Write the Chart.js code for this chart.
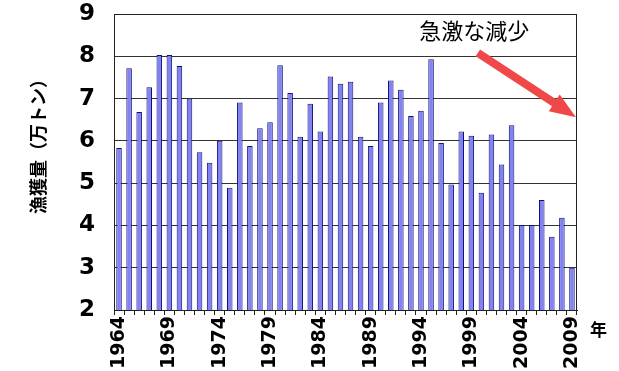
<!DOCTYPE html>
<html>
<head>
<meta charset="utf-8">
<script src="https://cdn.jsdelivr.net/npm/chart.js@4"></script>
<style>
  html, body { margin: 0; padding: 0; background: #fff; }
  #wrap { width: 619px; height: 371px; }
</style>
</head>
<body>
<div id="wrap"><canvas id="c" width="619" height="371"></canvas></div>
<script>
// 年別の漁獲量（万トン）
const years = [
  '1964','1965','1966','1967','1968','1969','1970','1971','1972','1973',
  '1974','1975','1976','1977','1978','1979','1980','1981','1982','1983',
  '1984','1985','1986','1987','1988','1989','1990','1991','1992','1993',
  '1994','1995','1996','1997','1998','1999','2000','2001','2002','2003',
  '2004','2005','2006','2007','2008','2009'
];
const catchTonsMan = [
  5.83, 7.72, 6.68, 7.27, 8.03, 8.03, 7.77, 7.00, 5.73, 5.48,
  6.00, 4.89, 6.91, 5.88, 6.30, 6.44, 7.79, 7.13, 6.10, 6.88,
  6.22, 7.52, 7.35, 7.40, 6.10, 5.88, 6.91, 7.43, 7.21, 6.59,
  6.71, 7.93, 5.95, 4.97, 6.22, 6.12, 4.77, 6.15, 5.44, 6.37,
  4.01, 4.01, 4.60, 3.73, 4.18, 3.00
];
const yTicks = [2, 3, 4, 5, 6, 7, 8, 9];
const labelEvery = 5;

const yTitle = '漁獲量（万トン）';
const xUnit = '年';
const noteText = '急激な減少';
// 注記の矢印（カテゴリ位置, 値）
const arrowFrom = [35.65, 8.08];
const arrowTo = [45.4, 6.56];
const noteAt = [35.3, 8.6];

const FONT = "'DejaVu Sans', 'Liberation Sans', Arial, sans-serif";
const CJK = "'Noto Sans CJK JP', 'Noto Sans', sans-serif";

const decorations = {
  id: 'decorations',
  afterDraw(chart) {
    const { ctx, chartArea: a, scales } = chart;
    const xs = scales.x, ys = scales.y;
    ctx.save();

    // 枠線
    ctx.strokeStyle = '#222';
    ctx.lineWidth = 1;
    ctx.strokeRect(a.left + 0.5, a.top + 0.5, a.right - a.left - 1, a.bottom - a.top);

    // 縦軸タイトル
    ctx.save();
    ctx.translate(38, 142);
    ctx.rotate(-Math.PI / 2);
    ctx.fillStyle = '#000';
    ctx.font = 'bold 18px ' + CJK;
    ctx.textAlign = 'center';
    ctx.textBaseline = 'middle';
    ctx.fillText(yTitle, 0, 0);
    ctx.restore();

    // 横軸の単位
    ctx.fillStyle = '#000';
    ctx.font = 'bold 17px ' + CJK;
    ctx.textAlign = 'left';
    ctx.textBaseline = 'middle';
    ctx.fillText(xUnit, 590, 330);

    // 注記テキスト
    ctx.font = '22px ' + CJK;
    ctx.textAlign = 'center';
    ctx.fillText(noteText, xs.getPixelForValue(noteAt[0]), ys.getPixelForValue(noteAt[1]));

    // 矢印
    const x1 = xs.getPixelForValue(arrowFrom[0]), y1 = ys.getPixelForValue(arrowFrom[1]);
    const x2 = xs.getPixelForValue(arrowTo[0]), y2 = ys.getPixelForValue(arrowTo[1]);
    const ang = Math.atan2(y2 - y1, x2 - x1);
    const headLen = 26, headHalf = 10, shaftHalf = 4;
    const len = Math.hypot(x2 - x1, y2 - y1);
    ctx.translate(x1, y1);
    ctx.rotate(ang);
    ctx.fillStyle = '#f04848';
    ctx.beginPath();
    ctx.moveTo(0, -shaftHalf);
    ctx.lineTo(len - headLen, -shaftHalf);
    ctx.lineTo(len - headLen, -headHalf);
    ctx.lineTo(len, 0);
    ctx.lineTo(len - headLen, headHalf);
    ctx.lineTo(len - headLen, shaftHalf);
    ctx.lineTo(0, shaftHalf);
    ctx.closePath();
    ctx.fill();
    ctx.restore();
  }
};

new Chart(document.getElementById('c'), {
  type: 'bar',
  data: {
    labels: years,
    datasets: [{
      data: catchTonsMan,
      backgroundColor: '#8282f0',
      borderColor: '#10107a',
      borderWidth: 1,
      barPercentage: 0.55,
      categoryPercentage: 1.0
    }]
  },
  options: {
    responsive: false,
    animation: false,
    devicePixelRatio: 1,
    layout: { padding: { top: 14, right: 42, left: 0, bottom: 0 } },
    plugins: { legend: { display: false }, tooltip: { enabled: false }, title: { display: false } },
    scales: {
      x: {
        grid: {
          display: true, drawOnChartArea: false, drawTicks: true,
          tickLength: 5, color: '#222', offset: true
        },
        border: { display: true, color: '#222' },
        ticks: {
          autoSkip: false,
          maxRotation: 90, minRotation: 90,
          padding: 1,
          color: '#000',
          font: { family: FONT, size: 19, weight: 'bold' },
          callback: (v, i) => (i % labelEvery === 0 ? years[i] : '')
        },
        afterFit(s) { s.height = 61; s.paddingLeft = 0; s.paddingRight = 0; }
      },
      y: {
        min: 2, max: 9,
        afterBuildTicks(s) { s.ticks = yTicks.map(v => ({ value: v })); },
        grid: { color: '#333', drawTicks: false },
        border: { display: true, color: '#222' },
        ticks: {
          padding: 19,
          color: '#000',
          font: { family: FONT, size: 23, weight: 'bold' }
        },
        afterFit(s) { s.width = 114; s.paddingTop = 0; s.paddingBottom = 0; }
      }
    }
  },
  plugins: [decorations]
});
</script>
</body>
</html>
